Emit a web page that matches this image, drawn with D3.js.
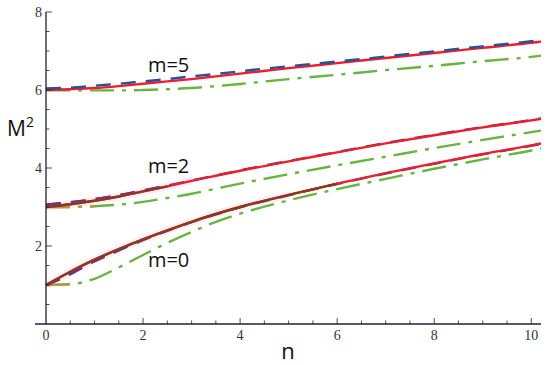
<!DOCTYPE html>
<html>
<head>
<meta charset="utf-8">
<script src="https://cdn.jsdelivr.net/npm/d3@7"></script>
<style>
  body { margin: 0; background: #fff; }
  svg { display: block; }
</style>
</head>
<body>
<div id="chart"></div>
<script>
// n grid shared by every curve
const nVals = [0, 0.5, 1, 1.5, 2, 2.5, 3, 3.5, 4, 5, 6, 7, 8, 9, 10, 10.2];

// m = 0
const m0Solid   = [1.00, 1.34, 1.65, 1.92, 2.17, 2.40, 2.62, 2.82, 3.00, 3.31, 3.60, 3.87, 4.12, 4.36, 4.58, 4.63];
const m0Dashed  = [1.00, 1.28, 1.61, 1.89, 2.15, 2.39, 2.61, 2.81, 2.99, 3.30, 3.59, 3.86, 4.11, 4.35, 4.57, 4.62];
const m0DashDot = [1.00, 1.02, 1.16, 1.45, 1.77, 2.08, 2.36, 2.62, 2.83, 3.17, 3.46, 3.72, 3.98, 4.22, 4.45, 4.50];
// m = 2
const m2Solid   = [3.00, 3.07, 3.16, 3.27, 3.40, 3.53, 3.67, 3.80, 3.93, 4.17, 4.40, 4.63, 4.84, 5.04, 5.22, 5.26];
const m2Dashed  = [3.06, 3.12, 3.20, 3.30, 3.42, 3.55, 3.68, 3.81, 3.94, 4.18, 4.41, 4.64, 4.85, 5.05, 5.23, 5.27];
const m2DashDot = [3.00, 3.00, 3.02, 3.06, 3.13, 3.23, 3.34, 3.47, 3.60, 3.84, 4.07, 4.29, 4.51, 4.72, 4.92, 4.96];
// m = 5
const m5Solid   = [6.00, 6.02, 6.05, 6.10, 6.16, 6.22, 6.28, 6.35, 6.42, 6.56, 6.69, 6.82, 6.95, 7.08, 7.21, 7.24];
const m5Dashed  = [6.04, 6.06, 6.11, 6.16, 6.22, 6.28, 6.35, 6.41, 6.48, 6.61, 6.73, 6.86, 6.99, 7.12, 7.25, 7.28];
const m5DashDot = [6.00, 5.99, 5.99, 5.99, 6.00, 6.02, 6.05, 6.10, 6.155, 6.28, 6.39, 6.51, 6.62, 6.74, 6.85, 6.88];

const xTicks = [0, 2, 4, 6, 8, 10];
const yTicks = [2, 4, 6, 8];
const labels = [
  {text: 'm=5', n: 2.1, v: 6.46},
  {text: 'm=2', n: 2.1, v: 3.87},
  {text: 'm=0', n: 2.1, v: 1.46}
];

const width = 550, height = 365;
const margin = {top: 12, right: 9, bottom: 41, left: 46};

const svg = d3.select('#chart').append('svg')
  .attr('width', width)
  .attr('height', height);

const x = d3.scaleLinear().domain([0, 10.2]).range([margin.left, width - margin.right]);
const y = d3.scaleLinear().domain([0, 8]).range([height - margin.bottom, margin.top]);

const red = '#f01b2c', blue = '#2a5192', green = '#69b441';
const brown = '#8a3b1c', purple = '#6a2f9a', orange = '#b69a3a';
const dashPat = '15,10';
const dashDotPat = '24,8,4,8';

const line = d3.line()
  .x(d => x(d[0]))
  .y(d => y(d[1]))
  .curve(d3.curveMonotoneX);

function pts(vals, maxN) {
  return nVals.map((n, i) => [n, vals[i]]).filter(d => maxN === undefined || d[0] <= maxN);
}

function draw(vals, color, dash, maxN, w) {
  svg.append('path')
    .datum(pts(vals, maxN))
    .attr('fill', 'none')
    .attr('stroke', color)
    .attr('stroke-width', w || 2.4)
    .attr('stroke-dasharray', dash)
    .attr('d', line);
}

// faint pink halo seen in the reference along the low-n solid curves
draw(m0Solid, '#fdeef8', null, 5, 8);
draw(m2Solid, '#fdeef8', null, 3, 8);

// m=5
draw(m5DashDot, green, dashDotPat);
draw(m5Solid, red, null);
draw(m5Dashed, blue, dashPat);
// m=2
draw(m2DashDot, green, dashDotPat);
draw(m2DashDot, orange, dashDotPat, 1.0);
draw(m2Dashed, blue, dashPat);
draw(m2Dashed, purple, dashPat, 2.5);
draw(m2Solid, red, null);
draw(m2Solid, brown, null, 2.6);
// m=0
draw(m0DashDot, green, dashDotPat);
draw(m0DashDot, orange, dashDotPat, 0.5);
draw(m0Dashed, blue, dashPat);
draw(m0Dashed, purple, dashPat, 1.5);
draw(m0Solid, red, null);
draw(m0Solid, brown, null, 6);

// axes
const axisColor = '#222';
const xMinor = d3.range(0.5, 10.01, 0.5);
const yMinor = d3.range(0.5, 8.01, 0.5);

svg.append('line')
  .attr('x1', x(0) - 11).attr('x2', x(10.2))
  .attr('y1', y(0)).attr('y2', y(0))
  .attr('stroke', axisColor).attr('stroke-width', 1.3);
svg.append('line')
  .attr('x1', x(0)).attr('x2', x(0))
  .attr('y1', y(0)).attr('y2', y(8))
  .attr('stroke', axisColor).attr('stroke-width', 1.3);

svg.selectAll('.xtick')
  .data(xMinor)
  .join('line')
  .attr('x1', d => x(d)).attr('x2', d => x(d))
  .attr('y1', y(0))
  .attr('y2', d => y(0) - (d % 2 === 0 ? 6 : 3.5))
  .attr('stroke', axisColor).attr('stroke-width', 0.8);

svg.selectAll('.ytick')
  .data(yMinor)
  .join('line')
  .attr('y1', d => y(d)).attr('y2', d => y(d))
  .attr('x1', x(0))
  .attr('x2', d => x(0) + (d % 2 === 0 ? 6 : 3.5))
  .attr('stroke', axisColor).attr('stroke-width', 0.8);

svg.selectAll('.xlab')
  .data(xTicks)
  .join('text')
  .attr('x', d => x(d))
  .attr('y', y(0) + 16)
  .attr('text-anchor', 'middle')
  .style('font-family', '"Liberation Serif", "DejaVu Serif", serif')
  .style('font-size', '14px')
  .style('fill', '#333')
  .text(d => d);

svg.selectAll('.ylab')
  .data(yTicks)
  .join('text')
  .attr('x', x(0) - 4)
  .attr('y', d => y(d) + 5)
  .attr('text-anchor', 'end')
  .style('font-family', '"Liberation Serif", "DejaVu Serif", serif')
  .style('font-size', '14px')
  .style('fill', '#333')
  .text(d => d);

// curve labels
svg.selectAll('.mlab')
  .data(labels)
  .join('text')
  .attr('x', d => x(d.n))
  .attr('y', d => y(d.v))
  .style('font-family', '"Open Sans", "Noto Sans", sans-serif')
  .style('font-size', '20px')
  .style('fill', '#111')
  .text(d => d.text);

// axis titles
const yTitle = svg.append('text')
  .attr('x', 7)
  .attr('y', 136)
  .style('font-family', '"Open Sans", "Noto Sans", sans-serif')
  .style('font-size', '21px')
  .style('fill', '#111');
yTitle.append('tspan').text('M');
yTitle.append('tspan').attr('dy', -9).style('font-size', '14px').text('2');

svg.append('text')
  .attr('x', 288)
  .attr('y', 359)
  .attr('text-anchor', 'middle')
  .style('font-family', '"Open Sans", "Noto Sans", sans-serif')
  .style('font-size', '22px')
  .style('fill', '#111')
  .text('n');
</script>
</body>
</html>
